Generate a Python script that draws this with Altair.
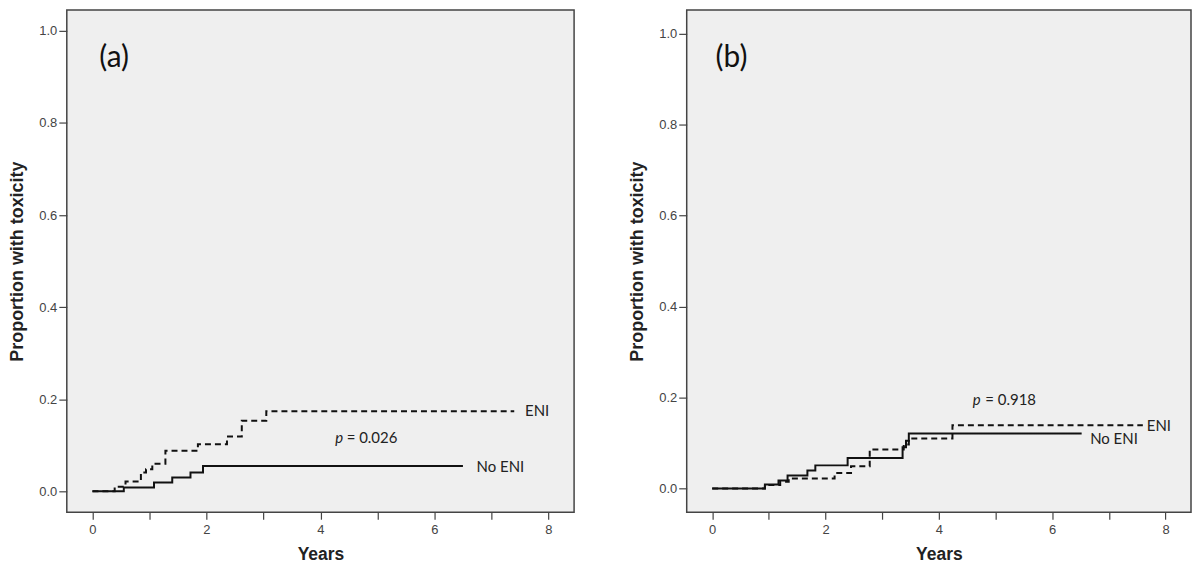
import altair as alt
import pandas as pd

# ---- data ----
# panel (a)
a_noeni_t = [0, 0.55, 1.08, 1.40, 1.72, 1.94, 6.50]
a_noeni_v = [0, 0.008, 0.019, 0.030, 0.041, 0.055, 0.055]
a_eni_t = [0, 0.39, 0.58, 0.85, 0.94, 1.05, 1.28, 1.85, 2.36, 2.62, 3.05, 7.40]
a_eni_v = [0, 0.010, 0.021, 0.041, 0.048, 0.060, 0.088, 0.102, 0.119, 0.153, 0.174, 0.174]
# panel (b)
b_noeni_t = [0, 0.93, 1.17, 1.33, 1.68, 1.82, 2.39, 3.36, 3.42, 3.47, 6.52]
b_noeni_v = [0, 0.009, 0.018, 0.029, 0.040, 0.051, 0.067, 0.091, 0.105, 0.121, 0.121]
b_eni_t = [0, 0.93, 1.20, 1.35, 2.16, 2.45, 2.78, 3.38, 3.47, 4.24, 7.60]
b_eni_v = [0, 0.008, 0.015, 0.022, 0.034, 0.049, 0.086, 0.097, 0.110, 0.139, 0.139]

groups = ["ENI", "No ENI"]
panel_labels = ["(a)", "(b)"]
p_values = ["= 0.026", "= 0.918"]
x_ticks = [0, 1, 2, 3, 4, 5, 6, 7, 8]
y_ticks = [0.0, 0.2, 0.4, 0.6, 0.8, 1.0]

# annotation anchors (data units)
ann_a = {"panel": (0.12, 0.94), "p": (4.26, 0.115), "peq": (4.46, 0.115),
         "ENI": (7.59, 0.175), "No ENI": (6.74, 0.052)}
ann_b = {"panel": (0.06, 0.946), "p": (4.60, 0.194), "peq": (4.82, 0.194),
         "ENI": (7.67, 0.138), "No ENI": (6.67, 0.109)}

LABEL_FONT = "Liberation Sans"
ANN_FONT = "Lato"


def curve_df(eni_t, eni_v, no_t, no_v):
    rows = []
    for t, v in zip(eni_t, eni_v):
        rows.append({"t": t, "v": v, "group": groups[0]})
    for t, v in zip(no_t, no_v):
        rows.append({"t": t, "v": v, "group": groups[1]})
    return pd.DataFrame(rows)


def panel(eni_t, eni_v, no_t, no_v, ann, label, pval, width, height, ytop, ybot):
    df = curve_df(eni_t, eni_v, no_t, no_v)
    xs = alt.Scale(domain=[-0.45, 8.45], nice=False, zero=False)
    ys = alt.Scale(domain=[ybot, ytop], nice=False, zero=False)
    xax = alt.Axis(values=x_ticks, labelExpr="datum.value % 2 == 0 ? datum.label : ''",
                   format="d", tickSize=7, tickColor="#444", tickWidth=1.2,
                   domain=False, grid=False, labelFont=LABEL_FONT, labelFontSize=13,
                   labelColor="#444", labelPadding=4, title="Years",
                   titleFont=LABEL_FONT, titleFontSize=17.5, titleFontWeight="bold",
                   titleColor="#222", titlePadding=9)
    yax = alt.Axis(values=y_ticks, format=".1f", tickSize=8, tickColor="#444", tickWidth=1.2,
                   domain=False, grid=False, labelFont=LABEL_FONT, labelFontSize=13,
                   labelColor="#444", labelPadding=2, title="Proportion with toxicity",
                   titleFont=LABEL_FONT, titleFontSize=18, titleFontWeight="bold",
                   titleColor="#222", titlePadding=12)
    lines = alt.Chart(df).mark_line(interpolate="step-after", color="#111", strokeWidth=2).encode(
        x=alt.X("t:Q", scale=xs, axis=xax),
        y=alt.Y("v:Q", scale=ys, axis=yax),
        strokeDash=alt.StrokeDash("group:N", scale=alt.Scale(domain=groups, range=[[6, 4], [1, 0]]),
                                  legend=None),
        detail="group:N",
    )
    ann_df = pd.DataFrame([
        {"x": ann["ENI"][0], "y": ann["ENI"][1], "text": groups[0]},
        {"x": ann["No ENI"][0], "y": ann["No ENI"][1], "text": groups[1]},
        {"x": ann["peq"][0], "y": ann["peq"][1], "text": pval},
    ])
    txt = alt.Chart(ann_df).mark_text(align="left", baseline="middle", font=ANN_FONT,
                                      fontSize=15, color="#222").encode(
        x=alt.X("x:Q", scale=xs), y=alt.Y("y:Q", scale=ys), text="text:N")
    p_df = pd.DataFrame([{"x": ann["p"][0], "y": ann["p"][1], "text": "p"}])
    ptxt = alt.Chart(p_df).mark_text(align="left", baseline="middle", font=ANN_FONT,
                                     fontSize=15, fontStyle="italic", color="#222").encode(
        x=alt.X("x:Q", scale=xs), y=alt.Y("y:Q", scale=ys), text="text:N")
    l_df = pd.DataFrame([{"x": ann["panel"][0], "y": ann["panel"][1], "text": label}])
    ltxt = alt.Chart(l_df).mark_text(align="left", baseline="middle", font=ANN_FONT,
                                     fontSize=30, color="#111").encode(
        x=alt.X("x:Q", scale=xs), y=alt.Y("y:Q", scale=ys), text="text:N")
    return alt.layer(lines, txt, ptxt, ltxt).properties(width=width, height=height)


pa = panel(a_eni_t, a_eni_v, a_noeni_t, a_noeni_v, ann_a, panel_labels[0], p_values[0],
           509, 504, 1.0455, -0.0455)
pb = panel(b_eni_t, b_eni_v, b_noeni_t, b_noeni_v, ann_b, panel_labels[1], p_values[1],
           506, 504, 1.052, -0.052)

chart = alt.hconcat(pa, pb, spacing=53).properties(
    padding={"left": 0, "top": 0, "right": 0, "bottom": 0},
    background="white",
).configure_view(stroke="#444", strokeWidth=1.5, fill="#efefef")

chart.save("out.html", embed_options={"renderer": "svg", "actions": False})
